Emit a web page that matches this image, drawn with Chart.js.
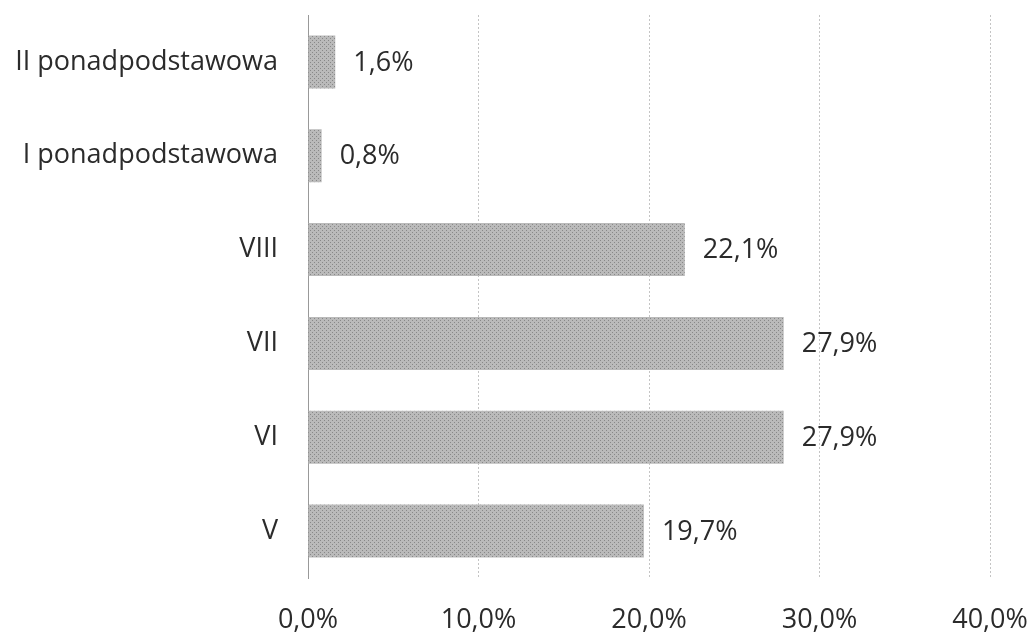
<!DOCTYPE html>
<html><head><meta charset="utf-8">
<script src="https://cdn.jsdelivr.net/npm/chart.js@4.4.0/dist/chart.umd.min.js"></script>
<style>html,body{margin:0;padding:0;background:#fff}#wrap{width:1032px;height:632px}</style>
</head><body><div id="wrap"><canvas id="c" width="1032" height="632"></canvas></div>
<script>
const categories = ['II ponadpodstawowa', 'I ponadpodstawowa', 'VIII', 'VII', 'VI', 'V'];
const values = [1.6, 0.8, 22.1, 27.9, 27.9, 19.7];
const xTicks = [0, 10, 20, 30, 40];

function fmt(v){ return v.toFixed(1).replace('.', ',') + '%'; }

function makePattern(){
  const p = document.createElement('canvas');
  p.width = 4; p.height = 4;
  const g = p.getContext('2d');
  g.fillStyle = '#bababa'; g.fillRect(0,0,4,4);
  g.fillStyle = '#888888'; g.fillRect(0,0,1,1); g.fillRect(2,2,1,1);
  return g.createPattern(p, 'repeat');
}

const FONT = "'Open Sans', 'Liberation Sans', sans-serif";

const labelPlugin = {
  id: 'valLabels',
  afterDatasetsDraw(chart){
    const ctx = chart.ctx;
    const meta = chart.getDatasetMeta(0);
    ctx.save();
    ctx.font = '27px ' + FONT;
    ctx.fillStyle = '#2b2b2b';
    ctx.textBaseline = 'middle';
    ctx.textAlign = 'left';
    meta.data.forEach((bar, i) => {
      ctx.fillText(fmt(values[i]), bar.x + 18, bar.y + 1);
    });
    ctx.restore();
  }
};

new Chart(document.getElementById('c'), {
  type: 'bar',
  data: {
    labels: categories,
    datasets: [{
      data: values,
      backgroundColor: makePattern(),
      borderWidth: 0,
      categoryPercentage: 1,
      barPercentage: 0.565
    }]
  },
  options: {
    indexAxis: 'y',
    responsive: false,
    animation: false,
    layout: { padding: { top: 15, right: 42, left: 0, bottom: 0 } },
    plugins: { legend: { display: false }, tooltip: { enabled: false } },
    scales: {
      x: {
        min: 0, max: 40,
        afterBuildTicks(s){ s.ticks = xTicks.map(v => ({ value: v })); },
        afterFit(s){ s.height = 54; s.paddingLeft = 0; s.paddingRight = 0; },
        grid: { color: '#c4c4c4', lineWidth: 1, drawTicks: false, tickLength: 0 },
        border: { display: false, dash: [2, 2] },
        ticks: { padding: 26, color: '#2b2b2b', font: { size: 27, family: FONT }, callback: v => fmt(v), maxRotation: 0 }
      },
      y: {
        afterFit(s){ s.width = 308; s.paddingTop = 0; s.paddingBottom = 0; },
        grid: { display: false, drawTicks: false },
        border: { display: true, color: '#999', width: 1 },
        ticks: { padding: 30, color: '#2b2b2b', font: { size: 27, family: FONT } }
      }
    }
  },
  plugins: [labelPlugin]
});
</script>
</body></html>
